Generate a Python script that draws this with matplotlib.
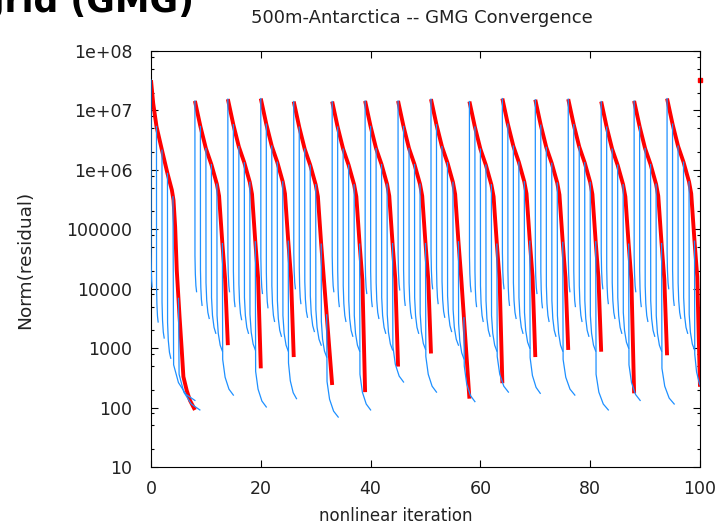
import numpy as np
import matplotlib
matplotlib.use("Agg")
import matplotlib.pyplot as plt
from matplotlib.ticker import LogLocator, FuncFormatter, NullFormatter, MultipleLocator

plt.rcParams['font.family'] = 'DejaVu Sans'

# red: nonlinear residual of each continuation step (log10 of the norm)
seg_start  = [0, 8, 14, 20, 26, 33, 39, 45, 51, 58, 64, 70, 76, 82, 88, 94]
seg_end    = [8, 14, 20, 26, 33, 39, 45, 51, 58, 64, 70, 76, 82, 88, 94, 100]
seg_top    = [7.51, 7.16, 7.19, 7.20, 7.15, 7.15, 7.16, 7.16, 7.19, 7.15, 7.20, 7.18, 7.19, 7.15, 7.16, 7.20]
seg_bottom = [1.96, 3.05, 2.66, 2.85, 2.38, 2.26, 2.69, 2.91, 2.15, 2.41, 2.85, 2.97, 2.94, 2.24, 2.88, 2.35]

shape_dx   = [0, 1, 2, 3, 4, 4.4, 5, 5.5]
shape_drop = [0, 0.43, 0.80, 1.07, 1.40, 1.60, 2.40, 3.00]

# the first step is longer and has its own tail
first_x = [0, 0.4, 1, 2, 3, 3.8, 4.1, 4.4, 4.7, 5.2, 5.6, 5.9, 6.5, 7.1, 8.0]
first_y = [7.51, 7.12, 6.73, 6.33, 5.94, 5.66, 5.49, 5.04, 4.30, 3.53, 2.97, 2.52, 2.29, 2.12, 1.96]

# start of the next step, only one point
last_x = 100
last_y = 7.51

# blue: linear solves, one per nonlinear iteration (log10 of the last residual)
blue_bottom = [
    [4.03, 3.44, 3.17, 2.83, 2.12, 1.96],
    [3.95, 3.72, 3.50, 3.25, 2.95, 2.21],
    [3.95, 3.70, 3.48, 3.25, 2.97, 2.01],
    [3.92, 3.68, 3.45, 3.20, 2.95, 2.15],
    [4.00, 3.75, 3.52, 3.28, 3.05, 2.85, 1.84],
    [3.95, 3.70, 3.45, 3.20, 2.95, 1.96],
    [3.92, 3.70, 3.50, 3.25, 2.97, 2.43],
    [3.98, 3.72, 3.50, 3.25, 2.98, 2.26],
    [4.00, 3.75, 3.52, 3.28, 3.05, 2.82, 2.10],
    [3.95, 3.70, 3.45, 3.20, 2.95, 2.26],
    [4.00, 3.72, 3.50, 3.25, 3.00, 2.24],
    [3.92, 3.68, 3.45, 3.20, 2.95, 2.21],
    [3.95, 3.70, 3.45, 3.20, 2.95, 1.96],
    [4.00, 3.75, 3.50, 3.25, 3.00, 2.12],
    [3.95, 3.70, 3.45, 3.20, 2.95, 2.06],
    [4.00, 3.72, 3.50, 3.25, 2.97, 2.30],
]
# how far right each solve drifts before it stops
blue_drift = [
    [0.2, 0.3, 0.4, 0.6, 4.0, 3.9],
    [0.3, 0.3, 0.6, 0.8, 1.0, 2.0],
    [0.3, 0.3, 0.5, 0.75, 1.0, 2.0],
    [0.3, 0.3, 0.5, 0.75, 1.0, 1.5],
    [0.3, 0.3, 0.5, 0.75, 1.0, 1.0, 2.1],
    [0.3, 0.3, 0.5, 0.75, 1.0, 2.0],
    [0.3, 0.3, 0.5, 0.75, 1.0, 2.0],
    [0.3, 0.3, 0.5, 0.75, 1.0, 2.0],
    [0.3, 0.3, 0.5, 0.75, 1.0, 1.0, 2.0],
    [0.3, 0.3, 0.5, 0.75, 1.0, 2.1],
    [0.3, 0.3, 0.5, 0.75, 1.0, 1.9],
    [0.3, 0.3, 0.5, 0.75, 1.0, 2.2],
    [0.3, 0.3, 0.5, 0.75, 1.0, 2.3],
    [0.3, 0.3, 0.5, 0.75, 1.0, 2.1],
    [0.3, 0.3, 0.5, 0.75, 1.0, 2.3],
    [0.3, 0.3, 0.5, 0.75, 1.0, 1.5],
]
# bend at the bottom of a solve
tail_fx = [0.03, 0.25, 0.6, 1.0]
tail_dy = [0.6, 0.3, 0.1, 0.0]

red = '#ff0000'
blue = '#1e90ff'

fig = plt.figure(figsize=(7.2, 5.28), dpi=100)
ax = fig.add_axes([151/720, 1 - 467/528, 549/720, 416/528])

for i in range(len(seg_start)):
    if i == 0:
        rx = np.array(first_x, dtype=float)
        ry = np.array(first_y)
    else:
        rx = np.array([seg_start[i] + d for d in shape_dx] + [seg_end[i]])
        ry = np.array([seg_top[i] - d for d in shape_drop] + [seg_bottom[i]])
    ax.plot(rx, 10**ry, color=red, lw=2.8, solid_capstyle='butt', zorder=2)

    for j, b in enumerate(blue_bottom[i]):
        x0 = seg_start[i] + j
        top = np.interp(x0, rx, ry)
        bx = [x0] + [x0 + f * blue_drift[i][j] for f in tail_fx]
        by = [top] + [b + min(dy, top - b) for dy in tail_dy]
        ax.plot(bx, 10**np.array(by), color=blue, lw=0.9, zorder=3)

ax.plot([last_x], [10**last_y], 's', color=red, ms=3, zorder=2, clip_on=False)

ax.set_yscale('log')
ax.set_xlim(0, 100)
ax.set_ylim(10, 1e8)

def ylab(v, pos):
    e = int(round(np.log10(v)))
    if e >= 6:
        return '1e+%02d' % e
    return '%d' % round(v)

ax.yaxis.set_major_locator(LogLocator(base=10, numticks=20))
ax.yaxis.set_minor_locator(LogLocator(base=10, subs=[2, 5, 8], numticks=20))
ax.yaxis.set_major_formatter(FuncFormatter(ylab))
ax.yaxis.set_minor_formatter(NullFormatter())
ax.xaxis.set_major_locator(MultipleLocator(20))

ax.tick_params(which='both', direction='in', top=True, right=True, width=0.8, colors='black',
               labelcolor='#222222', labelsize=12.5)
ax.tick_params(which='major', length=5)
ax.tick_params(which='minor', length=2.5)
ax.tick_params(axis='y', pad=13.5)
ax.tick_params(axis='x', pad=9)
for s in ax.spines.values():
    s.set_linewidth(0.8)

fig.text(422/720, 1 - 18/528, '500m-Antarctica -- GMG Convergence', ha='center', va='center',
         fontsize=13, color='#222222')
fig.text(396/720, 1 - 516/528, 'nonlinear iteration', ha='center', va='center',
         fontsize=12, color='#222222')
fig.text(25/720, 1 - 260/528, 'Norm(residual)', ha='center', va='center', rotation=90,
         fontsize=13.3, color='#222222')

# slide heading, cut by the top edge of the picture
fig.text(194/720, 1 - 11.7/528, 'Multigrid (GMG)', ha='right', va='baseline',
         fontsize=25, fontweight='bold', color='black')

fig.savefig('out.png', dpi=100)
